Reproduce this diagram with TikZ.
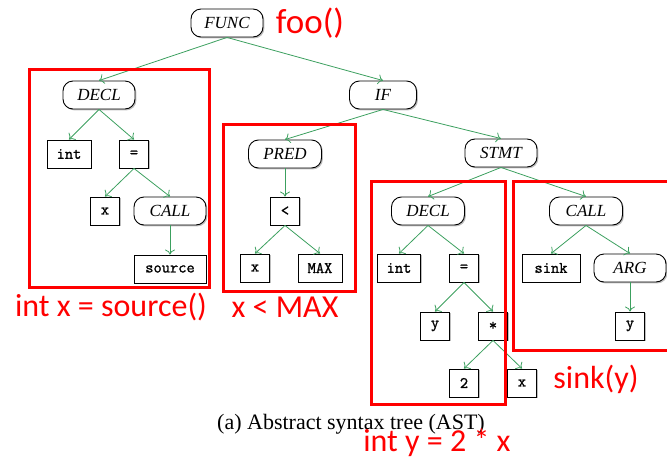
\documentclass[tikz,border=0pt]{standalone}
\usepackage{fontspec}
\setmainfont{Liberation Serif}
\newfontfamily\notefont{Carlito}
\newfontfamily\leaffont{Latin Modern Mono}[FakeBold=1.2]
\usetikzlibrary{shadows,arrows.meta}
\definecolor{edgegreen}{RGB}{60,160,95}
\definecolor{markred}{RGB}{255,0,0}

\begin{document}
\begin{tikzpicture}[x=1pt,y=-1pt,
  nodeshadow/.style={drop shadow={shadow xshift=1.4pt,shadow yshift=-1.4pt,fill=black!50}},
  term/.style={draw,line width=0.9pt,rounded corners=10pt,minimum width=72pt,minimum height=28pt,
    fill=white,inner sep=2pt,font=\fontsize{17}{17}\selectfont\itshape,nodeshadow},
  leaf/.style={draw,line width=0.9pt,minimum width=29pt,minimum height=28pt,inner sep=2pt,
    fill=white,font=\leaffont\fontsize{16}{16}\selectfont,nodeshadow},
  edge/.style={draw=edgegreen,line width=0.8pt,-{To[length=5pt,width=10pt]}},
  group/.style={draw=markred,line width=3pt},
  note/.style={text=markred,inner sep=0pt,font=\notefont\fontsize{32}{32}\selectfont}
]
\useasboundingbox (0,0) rectangle (667,461);

% top of the tree
\node[term] (func) at (227,23) {FUNC};
\node[term] (decl1) at (99,95) {DECL};
\node[term,minimum width=67pt] (if) at (383,95) {IF};

% declaration: int x = source()
\node[leaf,minimum width=44pt] (int1) at (69,154) {int};
\node[leaf] (eq1) at (134,154) {=};
\node[leaf] (x1) at (105,211) {x};
\node[term] (call1) at (170,211) {CALL};
\node[leaf,minimum width=72pt] (src) at (170,269) {source};

% predicate: x < MAX
\node[term,minimum width=73pt] (pred) at (285,154) {PRED};
\node[leaf] (lt) at (285,211) {<};
\node[leaf] (x2) at (255,268) {x};
\node[leaf,minimum width=44pt] (max) at (320,268) {MAX};

% statement body
\node[term] (stmt) at (501,153) {STMT};
\node[term,minimum width=73pt] (decl2) at (428,211) {DECL};
\node[leaf,minimum width=43pt] (int2) at (399,268) {int};
\node[leaf] (eq2) at (464,268) {=};
\node[leaf] (y1) at (435,326) {y};
\node[leaf] (mul) at (493,326) {*};
\node[leaf] (two) at (464,383) {2};
\node[leaf] (x3) at (522,383) {x};

\node[term,minimum width=73pt] (call2) at (586,211) {CALL};
\node[leaf,minimum width=58pt] (sink) at (551,268) {sink};
\node[term] (arg) at (630,268) {ARG};
\node[leaf] (y2) at (630,326) {y};

% edges
\foreach \p/\c in {func/decl1,func/if,decl1/int1,decl1/eq1,eq1/x1,eq1/call1,call1/src,
  if/pred,if/stmt,pred/lt,lt/x2,lt/max,stmt/decl2,stmt/call2,decl2/int2,decl2/eq2,
  eq2/y1,eq2/mul,mul/two,mul/x3,call2/sink,call2/arg,arg/y2}
  \draw[edge] (\p.south) -- (\c.north);

% highlighted source fragments
\draw[group] (29,69) rectangle (209,287);
\draw[group] (223,124) rectangle (355,291);
\draw[group] (371,181) rectangle (505,404);
\draw[group] (513,181) rectangle (669,350);

\node[note,font=\notefont\fontsize{35}{35}\selectfont] (lfoo) at (310,23) {foo()};
\node[note] (ldecl) at (111,307) {int x = source()};
\node[note] (lpred) at (285,307) {x < MAX};
\node[note] (lsink) at (596,379) {sink(y)};

\node[font=\fontsize{22}{22}\selectfont,inner sep=0pt] (cap) at (351,424) {(a) Abstract syntax tree (AST)};
\node[note] (ly) at (437,443) {int y = 2 * x};
\end{tikzpicture}
\end{document}
